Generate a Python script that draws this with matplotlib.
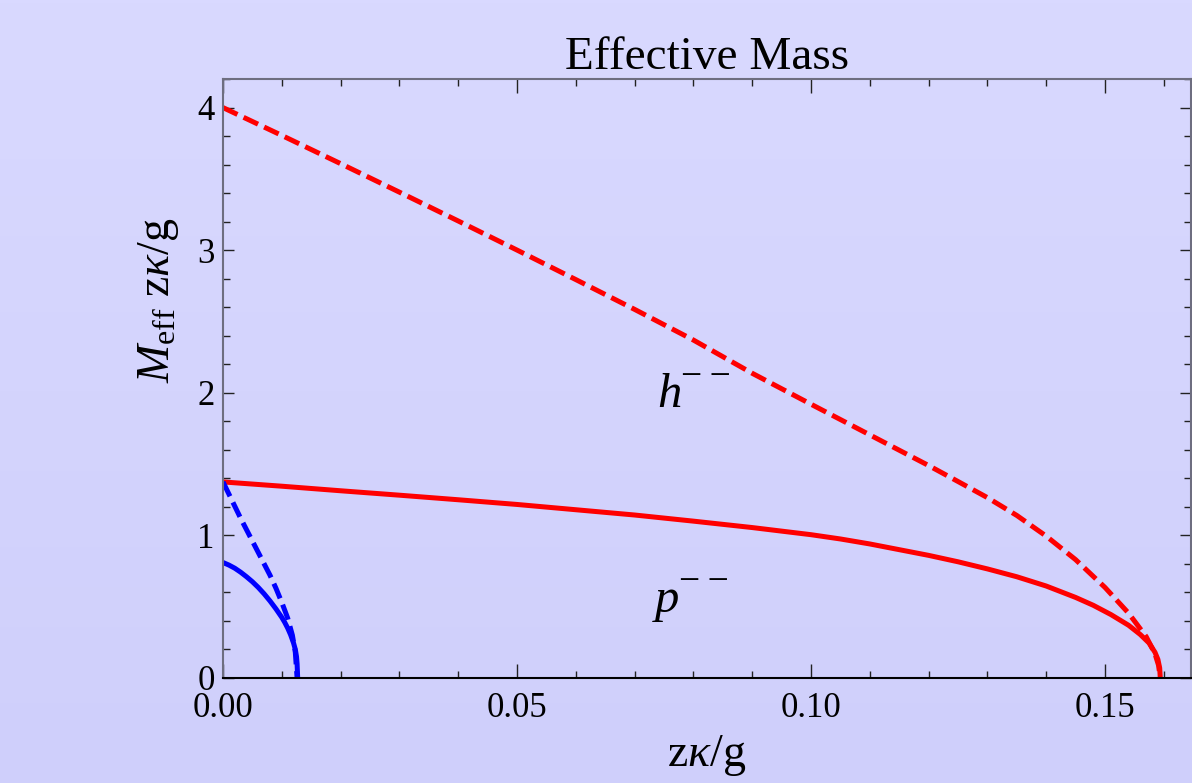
import numpy as np
import matplotlib
matplotlib.use("Agg")
import matplotlib.pyplot as plt
from matplotlib.ticker import MultipleLocator, FixedLocator, FixedFormatter

plt.rcParams['font.family'] = ['Liberation Serif', 'DejaVu Serif']
plt.rcParams['mathtext.fontset'] = 'custom'
plt.rcParams['mathtext.rm'] = 'Liberation Serif'
plt.rcParams['mathtext.it'] = 'Liberation Serif:italic'
plt.rcParams['mathtext.bf'] = 'Liberation Serif:bold'

# ---- data ----
h_x = [0.0, 0.01, 0.02, 0.03, 0.04, 0.05, 0.06, 0.07, 0.08, 0.09, 0.10, 0.11,
       0.12, 0.125, 0.13, 0.135, 0.14, 0.145, 0.15, 0.154, 0.157, 0.1585, 0.1591, 0.1594]
h_y = [4.00, 3.805, 3.607, 3.407, 3.205, 3.001, 2.794, 2.585, 2.37, 2.137, 1.92, 1.705,
       1.49, 1.378, 1.265, 1.14, 0.995, 0.83, 0.635, 0.455, 0.29, 0.17, 0.09, 0.0]

p_x = [0.0, 0.01, 0.02, 0.03, 0.04, 0.05, 0.06, 0.07, 0.08, 0.09, 0.10, 0.105,
       0.11, 0.115, 0.12, 0.125, 0.13, 0.135, 0.14, 0.145, 0.148, 0.151, 0.154,
       0.156, 0.1575, 0.1585, 0.1590, 0.1593, 0.1594]
p_y = [1.375, 1.345, 1.313, 1.282, 1.250, 1.217, 1.18, 1.143, 1.10, 1.055, 1.005, 0.975,
       0.94, 0.90, 0.86, 0.815, 0.765, 0.71, 0.645, 0.565, 0.51, 0.445, 0.37,
       0.305, 0.245, 0.18, 0.13, 0.07, 0.0]

bh_x = [0.0, 0.001, 0.002, 0.003, 0.004, 0.005, 0.006, 0.007, 0.008, 0.009, 0.010,
        0.011, 0.0118, 0.0123, 0.0126]
bh_y = [1.375, 1.29, 1.205, 1.12, 1.04, 0.96, 0.88, 0.80, 0.72, 0.63, 0.53,
        0.42, 0.30, 0.18, 0.0]

bp_x = [0.0, 0.001, 0.002, 0.003, 0.004, 0.005, 0.006, 0.007, 0.008, 0.009, 0.010,
        0.0105, 0.011, 0.0115, 0.012, 0.0123, 0.0125, 0.0126, 0.0127]
bp_y = [0.81, 0.792, 0.77, 0.742, 0.71, 0.675, 0.635, 0.59, 0.54, 0.485, 0.425,
        0.39, 0.35, 0.303, 0.245, 0.20, 0.15, 0.10, 0.0]

x_ticks = [0.0, 0.05, 0.10, 0.15]
x_labels = ["0.00", "0.05", "0.10", "0.15"]
y_ticks = [0, 1, 2, 3, 4]
y_labels = ["0", "1", "2", "3", "4"]

title = "Effective Mass"
# (x, y of baseline, letter)
labels = [(0.0738, 1.90, "h"), (0.0735, 0.463, "p")]
label_sup = "\u2212\u2009\u2212"

# ---- figure ----
fig = plt.figure(figsize=(11.92, 7.83), dpi=100)
bg = fig.add_axes([0, 0, 1, 1], zorder=-10)
grad = np.linspace(0, 1, 256).reshape(-1, 1)
top = np.array([217, 217, 255]) / 255.0
bot = np.array([207, 207, 251]) / 255.0
img = top[None, None, :] * (1 - grad[:, :, None]) + bot[None, None, :] * grad[:, :, None]
bg.imshow(img, aspect='auto', extent=[0, 1, 0, 1])
bg.set_axis_off()

ax = fig.add_axes([223 / 1192, (783 - 678) / 783, (1191 - 223) / 1192, (678 - 79) / 783])
ax.set_facecolor('none')

lw = 3.6
dash = (3.2, 1.35)
ax.plot(h_x, h_y, color='#ff0000', lw=lw, dashes=dash)
ax.plot(p_x, p_y, color='#ff0000', lw=lw, solid_capstyle='butt')
ax.plot(bh_x, bh_y, color='#0000ff', lw=lw, dashes=dash)
ax.plot(bp_x, bp_y, color='#0000ff', lw=lw, solid_capstyle='butt')

ax.set_xlim(0, (1191 - 223) / 5880)
ax.set_ylim(0, (678 - 79) / 142.6)

ax.xaxis.set_major_locator(FixedLocator(x_ticks))
ax.xaxis.set_major_formatter(FixedFormatter(x_labels))
ax.xaxis.set_minor_locator(MultipleLocator(0.01))
ax.yaxis.set_major_locator(FixedLocator(y_ticks))
ax.yaxis.set_major_formatter(FixedFormatter(y_labels))
ax.yaxis.set_minor_locator(MultipleLocator(0.2))

ax.tick_params(which='both', direction='in', top=True, right=True, colors='#222222',
               labelsize=25, width=1.0)
ax.tick_params(which='major', length=8)
ax.tick_params(which='minor', length=5)
ax.tick_params(axis='x', which='major', length=10, pad=10)
ax.tick_params(axis='y', which='major', pad=6)
for lab in ax.get_xticklabels() + ax.get_yticklabels():
    lab.set_color('black')

for side in ['left', 'top', 'right']:
    ax.spines[side].set_color('#6e6e80')
    ax.spines[side].set_linewidth(1.5)
ax.spines['bottom'].set_color('black')
ax.spines['bottom'].set_linewidth(1.5)

ax.set_title(title, fontsize=34, pad=6)
ax.set_xlabel(r"$\mathrm{z}\kappa/\mathrm{g}$", fontsize=33, labelpad=6)
ax.set_ylabel(r"$M_{\mathrm{eff}}\ \mathrm{z}\kappa/\mathrm{g}$", fontsize=33)
ax.yaxis.set_label_coords(-0.043, 0.63)

for x, y, s in labels:
    ax.text(x, y, s, fontsize=35, style='italic', ha='left', va='baseline')
    ax.annotate(label_sup, xy=(x, y), xycoords='data', xytext=(17, 21),
                textcoords='offset points', fontsize=27, ha='left', va='center')

fig.savefig("out.png", dpi=100)
